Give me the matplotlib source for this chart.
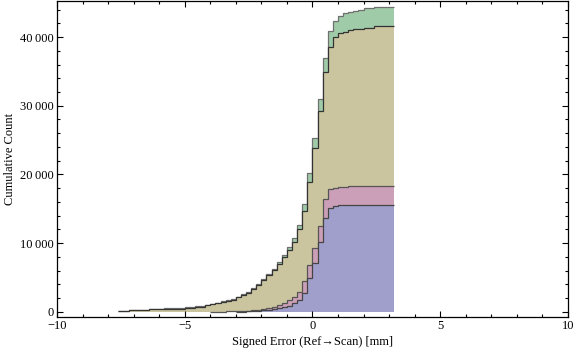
import numpy as np
import matplotlib
matplotlib.use("Agg")
import matplotlib.pyplot as plt
from matplotlib.ticker import MultipleLocator, FuncFormatter

# ====== DATA (cumulative counts per 0.2 mm bin, -7.6 .. 3.2) ======
BIN_START = -7.6
BIN_WIDTH = 0.2

green = [100, 100, 210, 210, 210, 210, 360, 360, 360, 490,
         490, 490, 490, 640, 640, 800, 800, 980, 1140, 1330,
         1500, 1650, 1860, 2200, 2530, 2870, 3420, 4070, 4800, 5470,
         6260, 7190, 8230, 9380, 10690, 12620, 15660, 20150, 25250, 30930,
         36900, 40910, 42370, 43100, 43450, 43680, 43830, 44020, 44210, 44210,
         44320, 44320, 44320, 44320]
tan = [80, 80, 190, 190, 190, 190, 340, 340, 340, 460,
       460, 460, 460, 600, 600, 760, 760, 930, 1080, 1260,
       1420, 1560, 1750, 2080, 2400, 2750, 3300, 3930, 4640, 5290,
       6060, 6990, 7950, 8980, 10190, 12000, 14710, 18840, 23790, 29220,
       34950, 38500, 39950, 40540, 40770, 41020, 41120, 41200, 41350, 41350,
       41550, 41550, 41600, 41600]
pink = [0, 0, 0, 0, 0, 0, 0, 0, 0, 0,
        0, 0, 0, 0, 0, 0, 0, 0, 30, 30,
        30, 60, 60, 100, 100, 150, 200, 300, 420, 580,
        730, 970, 1310, 1700, 2180, 2910, 4460, 6790, 9220, 12510,
        16350, 17810, 18090, 18190, 18190, 18280, 18300, 18300, 18300, 18300,
        18300, 18300, 18300, 18300]
blue = [0, 0, 0, 0, 0, 0, 0, 0, 0, 0,
        0, 0, 0, 0, 0, 0, 0, 0, 0, 0,
        0, 0, 0, 20, 20, 50, 50, 100, 200, 290,
        340, 485, 630, 870, 1210, 1700, 2760, 4850, 7130, 10190,
        13700, 15050, 15370, 15500, 15540, 15540, 15540, 15540, 15540, 15540,
        15540, 15540, 15540, 15540]

# ====== STYLE ======
plt.rcParams['font.family'] = ['Liberation Serif', 'DejaVu Serif']
plt.rcParams['font.size'] = 9

layers = [
    (green, "#9fcba8", "#707070"),
    (tan, "#cbc59f", "#333333"),
    (pink, "#cc9fb8", "#555555"),
    (blue, "#a09fcc", "#444444"),
]

fig = plt.figure(figsize=(5.76, 3.57), dpi=100)
ax = fig.add_axes([0.099, 0.112, 0.887, 0.885])

n = len(tan)
edges = BIN_START + BIN_WIDTH * np.arange(n + 1)

for vals, fc, ec in layers:
    vals = np.array(vals, dtype=float)
    first = np.argmax(vals > 0)
    v = vals[first:]
    e = edges[first:]
    ax.stairs(v, e, baseline=0, fill=True, color=fc, lw=0)
    ax.stairs(v, e, baseline=None, color=ec, lw=0.9)

ax.set_xlim(-10, 10)
ax.set_ylim(-770, 45250)

ax.xaxis.set_major_locator(MultipleLocator(5))
ax.xaxis.set_minor_locator(MultipleLocator(1))
ax.yaxis.set_major_locator(MultipleLocator(10000))
ax.yaxis.set_minor_locator(MultipleLocator(2000))
ax.tick_params(which='both', direction='in', top=True, right=True, width=0.8)
ax.tick_params(which='major', length=4.5)
ax.tick_params(which='minor', length=2.5)
ax.tick_params(axis='x', pad=2)
ax.tick_params(axis='y', pad=2)

def fmt_y(val, pos):
    s = f"{int(round(val)):,}"
    return s.replace(",", "\u2009")

def fmt_x(val, pos):
    return f"{int(val)}".replace("-", "\u2212")

ax.yaxis.set_major_formatter(FuncFormatter(fmt_y))
ax.xaxis.set_major_formatter(FuncFormatter(fmt_x))

for sp in ax.spines.values():
    sp.set_linewidth(0.9)

ax.set_xlabel("Signed Error (Ref\u2192Scan) [mm]", labelpad=3)
ax.set_ylabel("Cumulative Count", labelpad=3)

fig.savefig("out.png", dpi=100)
